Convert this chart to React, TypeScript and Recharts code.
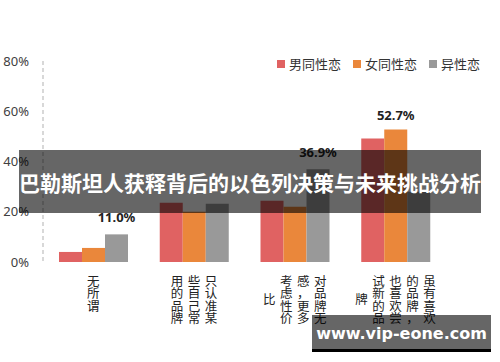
import React from 'react';
import { BarChart, Bar, XAxis, YAxis, Legend, LabelList } from 'recharts';

const categories = [
  '无所谓',
  '只认准某些自己常用的品牌',
  '对品牌无感，更多考虑性价比',
  '虽有喜欢的品牌，也喜欢尝试新的品牌',
];
const gayMen = [4.0, 23.6, 24.4, 49.2];
const lesbians = [5.6, 20.0, 22.0, 52.7];
const heterosexuals = [11.0, 23.2, 36.9, 28.0];
const lesbianLabels = ['', '', '', '52.7%'];
const heteroLabels = ['11.0%', '', '36.9%', ''];
const yTicks = [0, 20, 40, 60, 80];
const seriesNames = ['男同性恋', '女同性恋', '异性恋'];
const seriesColors = ['#E06262', '#EA873B', '#999999'];
const title = '巴勒斯坦人获释背后的以色列决策与未来挑战分析';
const watermark = 'www.vip-eone.com';

const data = categories.map((c, i) => ({
  category: c,
  gay: gayMen[i],
  lesbian: lesbians[i],
  hetero: heterosexuals[i],
  lesbianLabel: lesbianLabels[i],
  heteroLabel: heteroLabels[i],
}));

const CJK = '"Noto Sans CJK SC", "Noto Sans", sans-serif';

const VerticalTick = (props: any) => {
  const { x, y, payload } = props;
  const text: string = String(payload.value);
  const chunks: string[] = [];
  for (let i = 0; i < text.length; i += 4) chunks.push(text.slice(i, i + 4));
  const n = chunks.length;
  const maxLen = Math.max(...chunks.map((c) => c.length));
  const colGap = 17;
  const step = 12.5;
  const out: any[] = [];
  chunks.forEach((chunk, i) => {
    const cx = x + ((n - 1) / 2 - i) * colGap;
    const top = y + 13 + ((maxLen - chunk.length) * step) / 2;
    chunk.split('').forEach((ch, j) => {
      out.push(
        <text
          key={`${i}-${j}`}
          x={cx}
          y={top + j * step + 10.5}
          textAnchor="middle"
          fontSize={12.5}
          fill="#222"
          fontFamily={CJK}
        >
          {ch}
        </text>
      );
    });
  });
  return <g>{out}</g>;
};

const LegendContent = (props: any) => {
  const payload = [...(props.payload || [])].sort(
    (a: any, b: any) => seriesNames.indexOf(a.value) - seriesNames.indexOf(b.value)
  );
  return (
    <div style={{ display: 'flex', alignItems: 'center', fontFamily: CJK, fontSize: 13, color: '#333' }}>
      {payload.map((p: any, i: number) => (
        <div key={i} style={{ display: 'flex', alignItems: 'center', marginRight: i < payload.length - 1 ? 12 : 0 }}>
          <span style={{ width: 8, height: 8, background: p.color, display: 'inline-block', marginRight: 4 }} />
          <span>{p.value}</span>
        </div>
      ))}
    </div>
  );
};

const labelStyle = { fontSize: 13, fontWeight: 'bold' as const, fill: '#222', fontFamily: '"Noto Sans", sans-serif' };

export default function App() {
  return (
    <div style={{ position: 'relative', width: 500, height: 362, background: '#fff', overflow: 'hidden' }}>
      <style>{'body{margin:0}'}</style>
      <BarChart
        width={500}
        height={362}
        data={data}
        margin={{ top: 61, right: 54, left: 0, bottom: 0 }}
        barGap={0}
        barCategoryGap={16}
      >
        <XAxis
          dataKey="category"
          height={100}
          axisLine={false}
          tickLine={false}
          tickSize={0}
          tickMargin={0}
          interval={0}
          tick={<VerticalTick />}
        />
        <YAxis
          width={43}
          domain={[0, 80]}
          ticks={yTicks}
          tickFormatter={(v: number) => `${v}%`}
          axisLine={{ stroke: '#cccccc', strokeDasharray: '4 3', strokeWidth: 1.5 }}
          tickLine={false}
          tickSize={0}
          tickMargin={14}
          tick={{ fontSize: 13, fill: '#404040', fontFamily: '"Noto Sans", sans-serif' }}
        />
        <Legend
          layout="horizontal"
          verticalAlign="middle"
          align="center"
          wrapperStyle={{ position: 'absolute', top: 54, left: 277, width: 'auto' }}
          content={<LegendContent />}
        />
        <Bar dataKey="gay" name={seriesNames[0]} fill={seriesColors[0]} isAnimationActive={false} />
        <Bar dataKey="lesbian" name={seriesNames[1]} fill={seriesColors[1]} isAnimationActive={false}>
          <LabelList dataKey="lesbianLabel" position="top" offset={10} style={labelStyle} />
        </Bar>
        <Bar dataKey="hetero" name={seriesNames[2]} fill={seriesColors[2]} isAnimationActive={false}>
          <LabelList dataKey="heteroLabel" position="top" offset={12} style={labelStyle} />
        </Bar>
      </BarChart>
      <div
        style={{
          position: 'absolute',
          left: 19,
          top: 150,
          width: 462,
          height: 63,
          background: 'rgba(0,0,0,0.6)',
          color: '#fff',
          fontFamily: CJK,
          fontWeight: 'bold',
          fontSize: 21,
          display: 'flex',
          alignItems: 'center',
          justifyContent: 'center',
          whiteSpace: 'nowrap',
        }}
      >
        {title}
      </div>
      <div
        style={{
          position: 'absolute',
          left: 312,
          top: 315,
          width: 179,
          height: 37,
          background: 'rgba(0,0,0,0.6)',
          borderBottom: '3px solid #000',
          color: '#fff',
          fontFamily: '"DejaVu Sans", sans-serif',
          fontWeight: 'bold',
          fontSize: 16,
          display: 'flex',
          alignItems: 'center',
          justifyContent: 'center',
          paddingTop: 3,
          boxSizing: 'border-box',
          whiteSpace: 'nowrap',
        }}
      >
        {watermark}
      </div>
    </div>
  );
}
